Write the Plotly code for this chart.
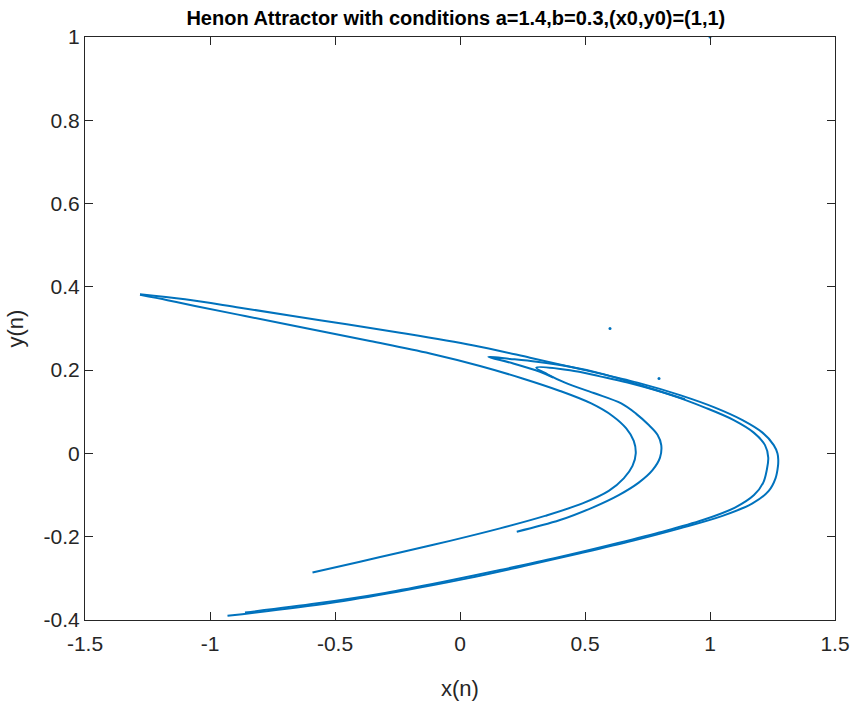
import plotly.graph_objects as go

# Outer strand: lower-left end -> right tip -> upper-left tip
outer_x = [-0.93, -0.52, -0.25, 0.03, 0.26, 0.48, 0.69, 0.88, 1.05, 1.17, 1.235, 1.262, 1.272, 1.273,
           1.27, 1.255, 1.21, 1.13, 1.02, 0.88, 0.71, 0.50, 0.28, 0.05, -0.24, -0.56, -0.88, -1.10, -1.28]
outer_y = [-0.390, -0.359, -0.332, -0.300, -0.270, -0.240, -0.210, -0.180, -0.150, -0.120, -0.090, -0.060, -0.030, -0.015,
           0.000, 0.020, 0.050, 0.080, 0.110, 0.140, 0.170, 0.200, 0.230, 0.260, 0.290, 0.320, 0.350, 0.370, 0.382]

# Inner strand (tip near x=0.7)
inner_x = [-0.59, -0.40, -0.24, -0.04, 0.16, 0.34, 0.49, 0.595, 0.655, 0.69, 0.703,
           0.695, 0.665, 0.61, 0.525, 0.40, 0.25, 0.08, -0.12, -0.36, -0.61, -0.86, -1.06, -1.17, -1.28]
inner_y = [-0.286, -0.260, -0.238, -0.210, -0.180, -0.150, -0.120, -0.090, -0.060, -0.030, 0.000,
           0.030, 0.060, 0.090, 0.120, 0.150, 0.180, 0.210, 0.240, 0.270, 0.300, 0.330, 0.354, 0.368, 0.381]

# Middle strand (tip near x=0.8), folding at (0.31, 0.206) into the outer band
middle_x = [0.227, 0.40, 0.53, 0.635, 0.715, 0.77, 0.80, 0.805, 0.79, 0.752, 0.705, 0.645, 0.535, 0.42, 0.35, 0.305,
            0.44, 0.56, 0.67, 0.845, 0.98, 1.095, 1.175, 1.22, 1.233, 1.227, 1.213, 1.176, 1.10, 0.971, 0.797,
            0.60, 0.39, 0.16, -0.08, -0.30, -0.57, -0.86]
middle_y = [-0.188, -0.160, -0.130, -0.100, -0.070, -0.040, -0.010, 0.020, 0.045, 0.070, 0.095, 0.120, 0.145, 0.170, 0.190, 0.206,
            0.200, 0.185, 0.170, 0.140, 0.110, 0.080, 0.050, 0.020, -0.010, -0.040, -0.070, -0.100, -0.130, -0.160, -0.190,
            -0.220, -0.250, -0.280, -0.310, -0.335, -0.360, -0.382]

# Small fold near (0.11, 0.23)
fold_x = [0.90, 0.70, 0.55, 0.44, 0.307, 0.20, 0.113, 0.213, 0.32, 0.373]
fold_y = [0.130, 0.168, 0.194, 0.208, 0.220, 0.227, 0.232, 0.216, 0.196, 0.182]

# First iterates (transient points)
start_x = [1.0, 0.6, 0.796]
start_y = [1.0, 0.3, 0.18]

color = "#0072BD"
fig = go.Figure()
for xs, ys in [(outer_x, outer_y), (inner_x, inner_y), (middle_x, middle_y), (fold_x, fold_y)]:
    fig.add_trace(go.Scatter(x=xs, y=ys, mode="lines",
                             line=dict(color=color, width=2, shape="spline", smoothing=1.0),
                             showlegend=False, hoverinfo="skip"))
fig.add_trace(go.Scatter(x=start_x, y=start_y, mode="markers",
                         marker=dict(color=color, size=3), showlegend=False, cliponaxis=True))

xt = [-1.5, -1, -0.5, 0, 0.5, 1, 1.5]
xl = ["-1.5", "-1", "-0.5", "0", "0.5", "1", "1.5"]
yt = [-0.4, -0.2, 0, 0.2, 0.4, 0.6, 0.8, 1]
yl = ["-0.4", "-0.2", "0", "0.2", "0.4", "0.6", "0.8", "1"]

font_family = "Liberation Sans, Arial"
axis_common = dict(showgrid=False, zeroline=False, showline=True, linecolor="#262626", linewidth=1,
                   mirror="ticks", ticks="inside", ticklen=8, tickcolor="#262626",
                   automargin=False, ticklabeloverflow="allow",
                   tickfont=dict(family=font_family, size=21, color="#262626"))

fig.update_layout(
    width=852, height=701,
    margin=dict(l=85, r=17, t=37, b=81),
    plot_bgcolor="white", paper_bgcolor="white",
    title=dict(text="<b>Henon Attractor with conditions a=1.4,b=0.3,(x0,y0)=(1,1)</b>",
               x=0.535, xanchor="center", y=0.975, yanchor="middle",
               font=dict(family=font_family, size=20, color="black")),
    xaxis=dict(range=[-1.5, 1.5], tickvals=xt, ticktext=xl, ticklabelstandoff=5,
               title=dict(text="x(n)", font=dict(family=font_family, size=22, color="#262626"),
                          standoff=27), **axis_common),
    yaxis=dict(range=[-0.4, 1.0], tickvals=yt, ticktext=yl,
               title=dict(text="y(n)", font=dict(family=font_family, size=22, color="#262626"),
                          standoff=13), **axis_common),
)

fig.write_html("out.html")
